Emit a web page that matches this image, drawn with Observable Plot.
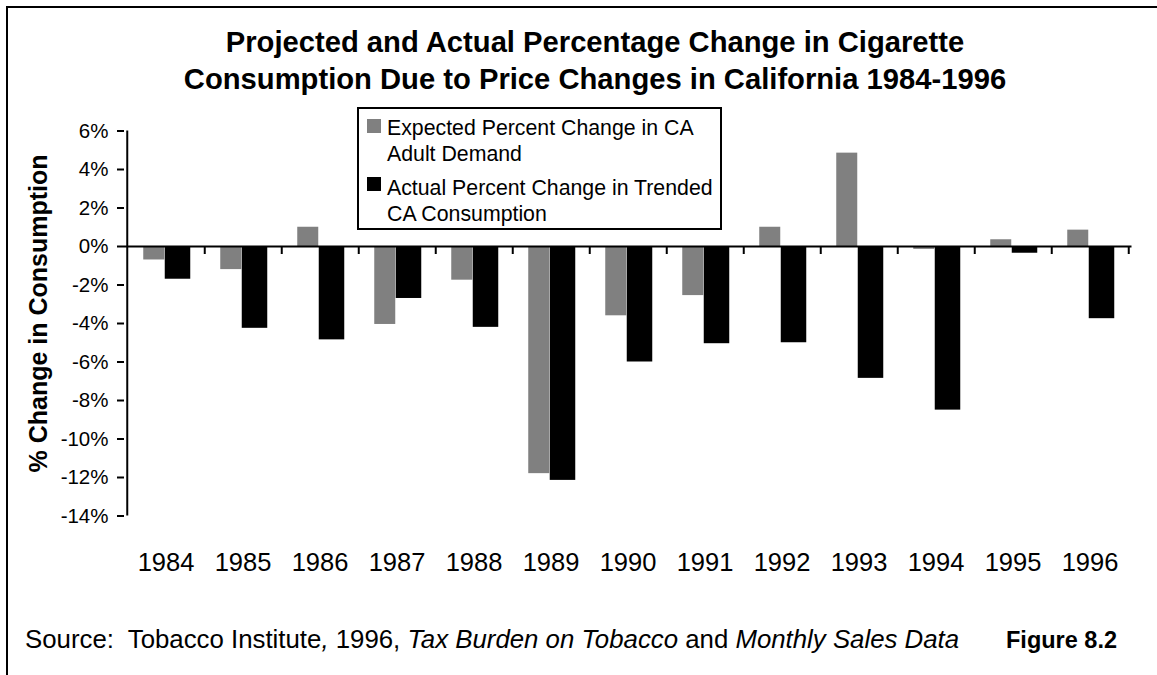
<!DOCTYPE html>
<html><head><meta charset="utf-8">
<script src="https://cdn.jsdelivr.net/npm/d3@7"></script>
<script src="https://cdn.jsdelivr.net/npm/@observablehq/plot@0.6"></script>
<style>
body{margin:0;background:#fff;font-family:"Liberation Sans",Arial,sans-serif;color:#000;}
#wrap{position:relative;width:1157px;height:675px;overflow:hidden;background:#fff;}
#frame{position:absolute;left:6px;top:6px;width:2000px;height:2000px;border-left:2px solid #000;border-top:2px solid #000;}
#title{position:absolute;left:33px;width:1124px;top:23.5px;text-align:center;font-weight:bold;font-size:29.2px;line-height:37px;}
#chart{position:absolute;left:0;top:100px;}
#legend{position:absolute;left:357px;top:107px;width:365px;height:123px;box-sizing:border-box;border:2px solid #000;background:#fff;}
.sw{position:absolute;width:14px;height:14px;}
.lt{position:absolute;font-size:21.3px;line-height:26px;white-space:nowrap;}
#source{position:absolute;left:25px;top:623.5px;font-size:25.8px;line-height:30px;white-space:pre;}
#fig{position:absolute;left:1006px;top:624.5px;font-size:23.5px;line-height:30px;font-weight:bold;white-space:nowrap;}
</style></head>
<body>
<div id="wrap">
  <div id="frame"></div>
  <div id="title">Projected and Actual Percentage Change in Cigarette<br>Consumption Due to Price Changes in California 1984-1996</div>
  <div id="chart"></div>
  <div id="legend"></div>
  <div id="source">Source:  Tobacco Institute<i>,</i> 1996, <i>Tax Burden on Tobacco</i> and <i>Monthly Sales Data</i></div>
  <div id="fig">Figure 8.2</div>
</div>
<script>
// ---- data ----
const years = ["1984","1985","1986","1987","1988","1989","1990","1991","1992","1993","1994","1995","1996"];
const expected = [-0.7, -1.2, 1.0, -4.05, -1.75, -11.8, -3.6, -2.55, 1.0, 4.85, -0.15, 0.35, 0.85];
const actual = [-1.7, -4.25, -4.85, -2.7, -4.2, -12.15, -6.0, -5.05, -5.0, -6.85, -8.5, -0.35, -3.75];
const yTicks = [-14, -12, -10, -8, -6, -4, -2, 0, 2, 4, 6];
const seriesNames = ["Expected Percent Change in CA Adult Demand", "Actual Percent Change in Trended CA Consumption"];
const legendLines = [["Expected Percent Change in CA", "Adult Demand"], ["Actual Percent Change in Trended", "CA Consumption"]];
const seriesColors = ["#808080", "#000000"];
const yTitle = "% Change in Consumption";

// ---- layout ----
const W = 1157, H = 485;
const mL = 124, mR = 25.5, mT = 30.5, mB = 69.5;
const step = (W - mL - mR) / years.length;
const bw = 23.5;

const expRows = years.map((y, i) => ({year: y, value: expected[i], series: seriesNames[0]}));
const actRows = years.map((y, i) => ({year: y, value: actual[i], series: seriesNames[1]}));

const plot = Plot.plot({
  width: W, height: H,
  marginLeft: mL, marginRight: mR, marginTop: mT, marginBottom: mB,
  style: {fontFamily: "'Liberation Sans', Arial, sans-serif", fontSize: "20.5px", background: "transparent", color: "#000", overflow: "visible"},
  x: {type: "band", domain: years, padding: 0},
  y: {domain: [-14, 6]},
  marks: [
    Plot.barY(expRows, {x: "year", y: "value", fill: seriesColors[0], insetLeft: step/2 - bw + 1, insetRight: step/2 + 1}),
    Plot.barY(actRows, {x: "year", y: "value", fill: seriesColors[1], insetLeft: step/2 - 1, insetRight: step/2 - bw - 1.5}),
    Plot.ruleY([0], {stroke: "#000", strokeWidth: 2}),
    Plot.ruleX(years, {x: d => d, y1: () => 0, y2: () => 0, insetBottom: -8, dx: step/2, stroke: "#000", strokeWidth: 2}),
    Plot.ruleX([years[0]], {x: d => d, dx: -step/2, stroke: "#000", strokeWidth: 2}),
    Plot.axisY({ticks: yTicks, tickFormat: d => d + "%", tickSize: 7, tickPadding: 9, strokeWidth: 2, fontSize: 20.5, label: null}),
    Plot.axisX({tickSize: 0, tickPadding: 36.5, fontSize: 25.5, label: null}),
    Plot.text([yTitle], {text: d => d, frameAnchor: "left", textAnchor: "middle", lineAnchor: "middle", rotate: -90, dx: -86, dy: -10, fontSize: 25, fontWeight: "bold"})
  ]
});
document.getElementById("chart").appendChild(plot);

// legend
const lg = document.getElementById("wrap");
const swTop = [119, 177], txtTop = [114.7, 174.7];
legendLines.forEach((lines, i) => {
  const s = document.createElement("div");
  s.className = "sw"; s.style.left = "367px"; s.style.top = swTop[i] + "px"; s.style.background = seriesColors[i];
  lg.appendChild(s);
  const t = document.createElement("div");
  t.className = "lt"; t.style.left = "387px"; t.style.top = txtTop[i] + "px";
  t.innerHTML = lines.join("<br>");
  lg.appendChild(t);
});
</script>
</body></html>
